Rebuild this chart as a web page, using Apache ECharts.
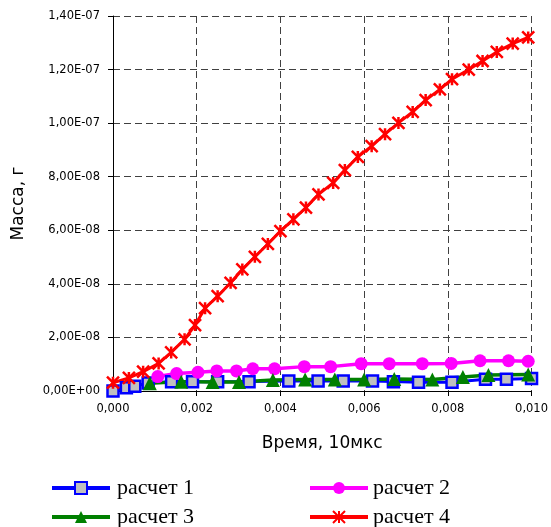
<!DOCTYPE html>
<html>
<head>
<meta charset="utf-8">
<script src="https://cdn.jsdelivr.net/npm/echarts@6/dist/echarts.min.js"></script>
<style>
  html, body { margin: 0; padding: 0; background: #fff; }
  #chart { width: 551px; height: 527px; }
</style>
</head>
<body>
<div id="chart"></div>
<script>
/* данные: время (10мкс) и масса в единицах 1e-8 г */
var NAMES = ['расчет 1', 'расчет 2', 'расчет 3', 'расчет 4'];

var T1 = [0, 0.00032, 0.00052, 0.00084, 0.0014, 0.0019, 0.0025, 0.00325, 0.0042, 0.0049, 0.0055, 0.0062, 0.0067, 0.0073, 0.0081, 0.0089, 0.0094, 0.0100];
var M1 = [0, 0.12, 0.18, 0.30, 0.35, 0.35, 0.35, 0.35, 0.37, 0.37, 0.37, 0.37, 0.35, 0.33, 0.33, 0.44, 0.44, 0.47];

var T2 = [0.00107, 0.00152, 0.00203, 0.00248, 0.00295, 0.00334, 0.00386, 0.00457, 0.00520, 0.00593, 0.00660, 0.00739, 0.00808, 0.00877, 0.00945, 0.00992];
var M2 = [0.54, 0.65, 0.70, 0.75, 0.75, 0.83, 0.83, 0.91, 0.91, 1.02, 1.02, 1.02, 1.03, 1.13, 1.13, 1.11];

var T3 = [0.00088, 0.00163, 0.00238, 0.00301, 0.00382, 0.00459, 0.00530, 0.00600, 0.00672, 0.00763, 0.00836, 0.00897, 0.00992];
var M3 = [0.29, 0.35, 0.34, 0.34, 0.41, 0.43, 0.43, 0.43, 0.45, 0.43, 0.52, 0.60, 0.62];

var T4 = [0, 0.00038, 0.00072, 0.00109, 0.00139, 0.00171, 0.00196, 0.00220, 0.00250, 0.00281, 0.00309, 0.00339, 0.00370, 0.00400, 0.00431, 0.00461,
          0.00491, 0.00526, 0.00554, 0.00585, 0.00618, 0.00650, 0.00682, 0.00716, 0.00747, 0.00781, 0.00810, 0.00850, 0.00883, 0.00917, 0.00955, 0.00992];
var M4 = [0.31, 0.49, 0.72, 1.03, 1.44, 1.93, 2.46, 3.09, 3.54, 4.04, 4.54, 5.01, 5.49, 5.97, 6.41, 6.85,
          7.34, 7.77, 8.25, 8.74, 9.14, 9.59, 10.01, 10.42, 10.86, 11.26, 11.64, 12.00, 12.32, 12.66, 12.97, 13.20];

function pairs(t, m) {
  var rt = [];
  for (var i = 0; i < t.length; i++) rt.push([t[i], m[i]]);
  return rt;
}

/* 14 -> "1,40E-07" */
function sciLabel(v) {
  if (v === 0) return '0,00E+00';
  var real = v * 1e-8;
  var e = Math.floor(Math.log10(real) + 1e-9);
  var mant = real / Math.pow(10, e);
  var s = mant.toFixed(2).replace('.', ',');
  var ae = Math.abs(e);
  return s + 'E' + (e < 0 ? '-' : '+') + (ae < 10 ? '0' : '') + ae;
}

var GRID_LINE = { show: true, lineStyle: { color: '#404040', width: 1, type: [7, 4] } };
var AXIS_FONT = { color: '#000', fontFamily: 'DejaVu Sans', fontSize: 11.5 };

/* одна легенда на каждый пункт, чтобы поставить их сеткой 2x2 */
function legendAt(name, left, top, pad) {
  return {
    left: left, top: top,
    itemWidth: 58, itemHeight: 15, itemGap: 0,
    lineStyle: { width: 4 },
    textStyle: { color: '#000', fontFamily: 'Liberation Serif', fontSize: 22, padding: [0, 0, 0, pad] },
    data: [name]
  };
}

var option = {
  animation: false,
  backgroundColor: '#fff',
  grid: { left: 113, right: 16, top: 16, bottom: 136 },
  legend: [
    legendAt(NAMES[0], 45, 472, 2),
    legendAt(NAMES[1], 303, 472, 0),
    legendAt(NAMES[2], 45, 501, 2),
    legendAt(NAMES[3], 303, 501, 0)
  ],
  xAxis: {
    type: 'value',
    min: 0, max: 0.01, interval: 0.002,
    name: 'Время, 10мкс',
    nameLocation: 'middle',
    nameGap: 44,
    nameTextStyle: { color: '#000', fontFamily: 'DejaVu Sans', fontSize: 17 },
    axisLine: { show: true, onZero: false, lineStyle: { color: '#000', width: 1 } },
    axisTick: { show: true, length: 5, lineStyle: { color: '#000' } },
    axisLabel: Object.assign({ margin: 12, formatter: function (v) { return v.toFixed(3).replace('.', ','); } }, AXIS_FONT),
    splitLine: GRID_LINE
  },
  yAxis: {
    type: 'value',
    min: 0, max: 14, interval: 2,
    name: 'Масса, г',
    nameLocation: 'middle',
    nameGap: 86,
    nameTextStyle: { color: '#000', fontFamily: 'DejaVu Sans', fontSize: 17 },
    axisLine: { show: true, lineStyle: { color: '#000', width: 1 } },
    axisTick: { show: true, length: 5, lineStyle: { color: '#000' } },
    axisLabel: Object.assign({ margin: 13, formatter: sciLabel }, AXIS_FONT),
    splitLine: GRID_LINE
  },
  series: [
    {
      name: NAMES[0], type: 'line',
      data: pairs(T1, M1),
      symbol: 'rect', symbolSize: 11,
      lineStyle: { color: '#0000FF', width: 3 },
      itemStyle: { color: '#C0C0C0', borderColor: '#0000FF', borderWidth: 2.5 }
    },
    {
      name: NAMES[1], type: 'line',
      data: pairs(T2, M2),
      symbol: 'circle', symbolSize: 13,
      lineStyle: { color: '#FF00FF', width: 3.5 },
      itemStyle: { color: '#FF00FF', borderColor: '#FF00FF', borderWidth: 0 }
    },
    {
      name: NAMES[2], type: 'line',
      data: pairs(T3, M3),
      symbol: 'triangle', symbolSize: 14,
      lineStyle: { color: '#008000', width: 3.5 },
      itemStyle: { color: '#008000', borderColor: '#008000', borderWidth: 0 }
    },
    {
      name: NAMES[3], type: 'line',
      data: pairs(T4, M4),
      symbol: 'path://M0,0L10,10M10,0L0,10M5,0L5,10', symbolSize: 12,
      lineStyle: { color: '#FF0000', width: 3 },
      itemStyle: { color: '#FF0000', borderColor: '#FF0000', borderWidth: 2.5 }
    }
  ]
};

var chart = echarts.init(document.getElementById('chart'));
chart.setOption(option);
</script>
</body>
</html>
